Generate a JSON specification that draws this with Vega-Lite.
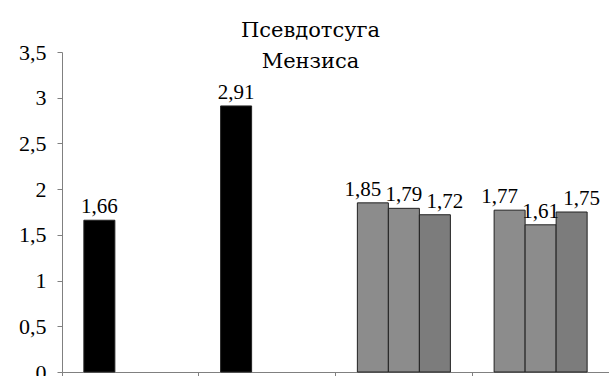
{
  "$schema": "https://vega.github.io/schema/vega-lite/v6.json",
  "width": 547,
  "height": 320,
  "autosize": "none",
  "padding": {"left": 62, "top": 52, "right": 0, "bottom": 4},
  "background": "#ffffff",
  "config": {
    "locale": {"number": {"decimal": ",", "thousands": " ", "grouping": [3], "currency": ["", ""]}},
    "view": {"stroke": null}
  },
  "title": {
    "text": ["Псевдотсуга", "Мензиса"],
    "fontSize": 21,
    "font": "DejaVu Serif",
    "fontWeight": "normal",
    "color": "#000000",
    "anchor": "middle",
    "dx": -25,
    "offset": -31,
    "lineHeight": 31
  },
  "data": {
    "values": [
      {"group": "1", "slot": 1, "kind": "solid", "value": 1.66},
      {"group": "2", "slot": 1, "kind": "solid", "value": 2.91},
      {"group": "3", "slot": 1, "kind": "checker", "value": 1.85},
      {"group": "3", "slot": 2, "kind": "checker", "value": 1.79},
      {"group": "3", "slot": 3, "kind": "stripes", "value": 1.72},
      {"group": "4", "slot": 1, "kind": "checker", "value": 1.77},
      {"group": "4", "slot": 2, "kind": "checker", "value": 1.61},
      {"group": "4", "slot": 3, "kind": "stripes", "value": 1.75}
    ]
  },
  "encoding": {
    "x": {
      "field": "group",
      "type": "nominal",
      "scale": {"paddingInner": 0, "paddingOuter": 0},
      "axis": {
        "title": null,
        "labels": false,
        "bandPosition": 0,
        "tickSize": 6,
        "domainColor": "#808080",
        "tickColor": "#808080",
        "grid": false
      }
    },
    "xOffset": {
      "field": "slot",
      "type": "ordinal",
      "scale": {"paddingInner": 0, "paddingOuter": 0.705}
    },
    "y": {
      "field": "value",
      "type": "quantitative",
      "scale": {"domain": [0, 3.5], "nice": false},
      "axis": {
        "title": null,
        "values": [0, 0.5, 1, 1.5, 2, 2.5, 3, 3.5],
        "format": "~g",
        "grid": false,
        "tickSize": 5,
        "labelPadding": 11,
        "labelFontSize": 22,
        "labelFont": "Times New Roman",
        "labelColor": "#000000",
        "domainColor": "#808080",
        "tickColor": "#808080"
      }
    },
    "text": {"field": "value", "type": "quantitative", "format": ".2f"}
  },
  "layer": [
    {
      "mark": {"type": "bar", "stroke": "#222222", "strokeWidth": 1},
      "encoding": {
        "text": null,
        "color": {
          "field": "kind",
          "type": "nominal",
          "scale": {"domain": ["solid", "checker", "stripes"], "range": ["#000000", "#8c8c8c", "#7c7c7c"]},
          "legend": null
        }
      }
    },
    {
      "transform": [{"filter": "datum.group == '1' || datum.group == '2' || datum.slot == 2"}],
      "mark": {"type": "text", "baseline": "alphabetic", "dy": -7, "fontSize": 21, "font": "Times New Roman", "color": "#000000"}
    },
    {
      "transform": [{"filter": "(datum.group == '3' || datum.group == '4') && datum.slot == 1"}],
      "mark": {"type": "text", "baseline": "alphabetic", "dx": -10, "dy": -7, "fontSize": 21, "font": "Times New Roman", "color": "#000000"}
    },
    {
      "transform": [{"filter": "datum.slot == 3"}],
      "mark": {"type": "text", "baseline": "alphabetic", "dx": 10, "dy": -7, "fontSize": 21, "font": "Times New Roman", "color": "#000000"}
    }
  ]
}
